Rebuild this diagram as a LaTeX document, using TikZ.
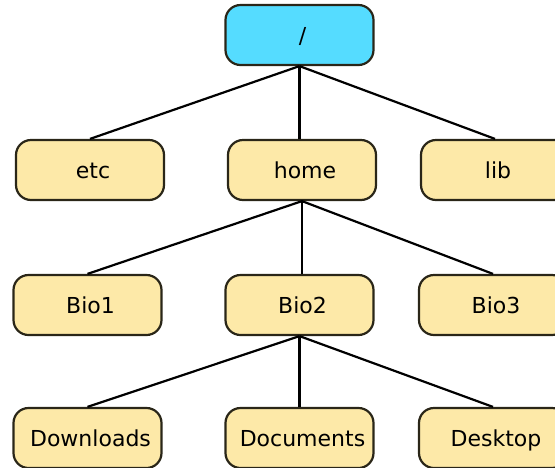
\documentclass[tikz,border=0pt]{standalone}
\usepackage{fontspec}
\setmainfont{DejaVu Sans}
\definecolor{dirfill}{HTML}{FDE9A8}
\definecolor{rootfill}{HTML}{55DCFF}
\definecolor{edgeline}{HTML}{2A2618}
\tikzset{
  dirbox/.style={draw=edgeline, line width=2.2pt, fill=dirfill, rounded corners=15pt,
    minimum width=148pt, minimum height=60pt, inner sep=0pt,
    text height=16pt, text depth=0pt,
    font=\fontsize{22}{26}\selectfont, execute at begin node={\hspace*{6pt}}},
  rootbox/.style={dirbox, fill=rootfill},
  link/.style={line width=2.2pt, draw=black}
}
\begin{document}
\begin{tikzpicture}[x=1pt, y=-1pt]
  \useasboundingbox (0,0) rectangle (555,467);
  \clip (0,0) rectangle (555,467);
  % directory nodes
  \node[rootbox] (root) at (299.5,35) {/};
  \node[dirbox] (etc)  at (90,170)  {etc};
  \node[dirbox] (home) at (302,170) {home};
  \node[dirbox] (lib)  at (495,170) {lib};
  \node[dirbox] (bio1) at (87.5,305) {Bio1};
  \node[dirbox] (bio2) at (299.5,305) {Bio2};
  \node[dirbox] (bio3) at (493,305) {Bio3};
  \node[dirbox] (dl)   at (87.5,438) {Downloads};
  \node[dirbox] (doc)  at (299.5,438) {Documents};
  \node[dirbox] (desk) at (493,438) {Desktop};
  % tree edges from each parent's bottom to its children's tops
  \draw[link] (root.south) -- (etc.north);
  \draw[link] (root.south) -- (home.north -| root.south);
  \draw[link] (root.south) -- (lib.north);
  \draw[link] (home.south) -- (bio1.north);
  \draw[link] (home.south) -- (bio2.north -| home.south);
  \draw[link] (home.south) -- (bio3.north);
  \draw[link] (bio2.south) -- (dl.north);
  \draw[link] (bio2.south) -- (doc.north -| bio2.south);
  \draw[link] (bio2.south) -- (desk.north);
\end{tikzpicture}
\end{document}
